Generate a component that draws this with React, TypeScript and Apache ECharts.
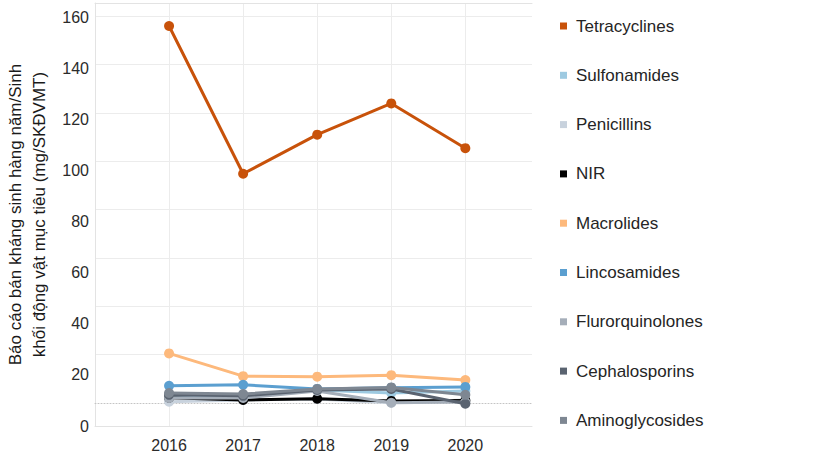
import React, { useEffect, useRef } from "react";
import * as echarts from "echarts";

const years = [2016, 2017, 2018, 2019, 2020];
const seriesNames = [
  "Tetracyclines",
  "Sulfonamides",
  "Penicillins",
  "NIR",
  "Macrolides",
  "Lincosamides",
  "Flurorquinolones",
  "Cephalosporins",
  "Aminoglycosides",
];
const tetracyclines = [156.5, 98.7, 114, 126.2, 108.7];
const sulfonamides = [11.4, 11.4, 14.1, 12.9, 13.7];
const penicillins = [9.5, 10.2, 10.6, 9.1, 10.2];
const nir = [11.1, 10.2, 10.7, 9.8, 10.0];
const macrolides = [28.4, 19.5, 19.3, 19.9, 18.0];
const lincosamides = [15.7, 16.1, 14.5, 15.0, 15.3];
const flurorquinolones = [11.0, 11.0, 13.7, 9.1, 9.4];
const cephalosporins = [12.2, 11.8, 14.1, 14.5, 8.7];
const aminoglycosides = [12.9, 12.5, 14.5, 15.1, 12.2];
const seriesValues = [
  tetracyclines,
  sulfonamides,
  penicillins,
  nir,
  macrolides,
  lincosamides,
  flurorquinolones,
  cephalosporins,
  aminoglycosides,
];
const colors = [
  "#c8520a",
  "#9ecae1",
  "#c8d2dd",
  "#000000",
  "#fdb97c",
  "#5b9fd0",
  "#a5aeb9",
  "#5a6370",
  "#7e8792",
];
const yAxisName = "Báo cáo bán kháng sinh hàng năm/Sinh\nkhối động vật mục tiêu (mg/SKĐVMT)";

const FONT = "'Liberation Sans', Arial, sans-serif";

export default function App() {
  const ref = useRef<HTMLDivElement>(null);
  useEffect(() => {
    if (!ref.current) return;
    const chart = echarts.init(ref.current, undefined, { renderer: "svg" });
    const gridLine = "#ececec";
    chart.setOption({
      animation: false,
      backgroundColor: "#ffffff",
      textStyle: { fontFamily: FONT },
      grid: [
        { left: 95, right: 288, top: 3, bottom: 35, outerBoundsMode: "none", containLabel: false },
        { left: 95, right: 288, top: 16, bottom: 58, outerBoundsMode: "none", containLabel: false },
      ],
      legend: {
        orient: "vertical",
        left: 560,
        top: 16,
        padding: 0,
        itemWidth: 7,
        itemHeight: 7,
        itemGap: 29.3,
        icon: "rect",
        data: seriesNames,
        textStyle: {
          fontFamily: FONT,
          fontSize: 17,
          color: "#252525",
          lineHeight: 20,
          padding: [0, 0, 0, 4],
        },
      },
      xAxis: [
        {
          gridIndex: 0,
          type: "value",
          min: 2015,
          max: 2020.9,
          interval: 1,
          axisLine: { show: true, lineStyle: { color: "#e3e3e3", width: 1 } },
          axisTick: { show: false },
          splitLine: {
            show: true,
            showMinLine: false,
            showMaxLine: false,
            lineStyle: { color: gridLine, width: 1 },
          },
          axisLabel: {
            fontFamily: FONT,
            fontSize: 16,
            color: "#2b2b2b",
            margin: 11,
            showMinLabel: false,
            showMaxLabel: false,
            formatter: (v: number) => String(v),
          },
        },
        {
          gridIndex: 0,
          type: "value",
          position: "top",
          min: 2015,
          max: 2020.9,
          axisLine: { show: true, onZero: false, lineStyle: { color: "#e3e3e3", width: 1 } },
          axisTick: { show: false },
          axisLabel: { show: false },
          splitLine: { show: false },
        },
        {
          gridIndex: 1,
          type: "value",
          min: 2015,
          max: 2020.9,
          axisLine: { show: true, lineStyle: { color: "#c4c4c4", width: 1, type: [1, 2] } },
          axisTick: { show: false },
          axisLabel: { show: false },
          splitLine: { show: false },
        },
      ],
      yAxis: [
        {
          gridIndex: 0,
          type: "value",
          min: 0,
          max: 165.5,
          interval: 20,
          axisLine: { show: true, lineStyle: { color: "#e3e3e3", width: 1 } },
          axisTick: { show: false },
          splitLine: { show: false },
          axisLabel: {
            fontFamily: FONT,
            fontSize: 16,
            color: "#2b2b2b",
            margin: 6,
            showMaxLabel: false,
          },
          name: yAxisName,
          nameLocation: "middle",
          nameRotate: 90,
          nameGap: 41,
          nameTextStyle: {
            fontFamily: FONT,
            fontSize: 17,
            color: "#1a1a1a",
            lineHeight: 24,
            align: "center",
          },
        },
        {
          gridIndex: 1,
          type: "value",
          min: 0,
          max: 160,
          interval: 20,
          axisLine: { show: false },
          axisTick: { show: false },
          axisLabel: { show: false },
          splitLine: {
            show: true,
            showMinLine: false,
            lineStyle: { color: gridLine, width: 1 },
          },
        },
      ],
      series: seriesNames.map((name, i) => ({
        name,
        type: "line",
        xAxisIndex: 0,
        yAxisIndex: 0,
        data: years.map((y, j) => [y, seriesValues[i][j]]),
        symbol: "circle",
        symbolSize: 10,
        showSymbol: true,
        color: colors[i],
        itemStyle: { color: colors[i] },
        lineStyle: { color: colors[i], width: 3 },
        z: i === 0 ? 20 : 2 + i,
      })),
    });
    return () => chart.dispose();
  }, []);
  return (
    <div
      ref={ref}
      style={{ position: "fixed", left: 0, top: 0, width: 820, height: 461 }}
    />
  );
}
